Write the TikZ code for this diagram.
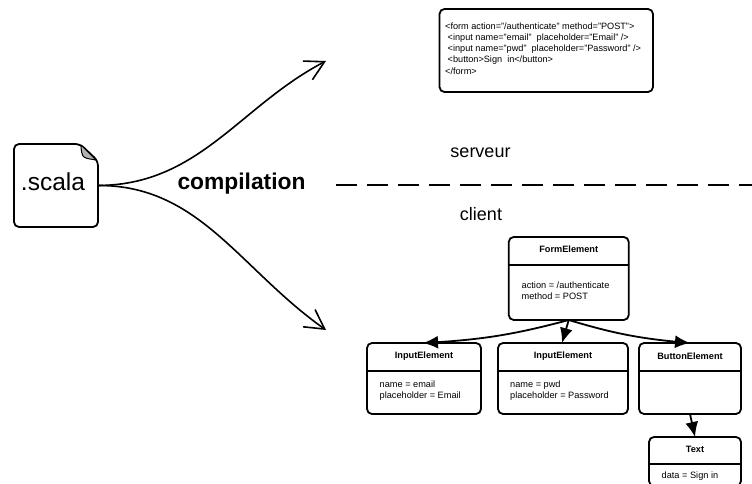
\documentclass[tikz,border=0pt]{standalone}
\usepackage{fontspec}
\setmainfont{Liberation Sans}
\usetikzlibrary{arrows.meta,bending}

\begin{document}
\begin{tikzpicture}[
x=1pt,y=-1pt,
line cap=round,
classbox/.style={
  draw,
  line width=1.8pt,
  rounded corners=5pt,
  outer sep=0pt,
  fill=white
  },
classtitle/.style={
  font=\fontsize{9.2}{11}\selectfont\bfseries,
  inner sep=0pt
  },
classbody/.style={
  font=\fontsize{9.2}{11}\selectfont,
  align=left,
  inner sep=0pt
  },
bigarrow/.style={
  line width=1.6pt,
  -{Straight Barb[length=19pt,width=21pt,line width=1.6pt,flex=0]}
  },
smallarrow/.style={
  line width=1.8pt,
  -{Latex[length=15pt,width=13pt,flex=0]}
  }
]
\useasboundingbox (0,0) rectangle (752,484);
% source file
\node[outer sep=0pt,minimum width=84pt,minimum height=83pt] (scala) at (56,185.5) {};
\draw[line width=1.8pt,rounded corners=5pt]
  (scala.south west) -- (scala.north west) -- (80,144) -- (98,161) -- (scala.south east) -- cycle;
\draw[line width=1pt,fill=black!30,line join=round]
  (81,145) .. controls (81,150) and (82,156) .. (84,157) .. controls (87,159) and (91,159) .. (96,160) -- cycle;
\node[font=\fontsize{24.5}{24}\selectfont,inner sep=0pt] (ext) at (53,182) {.scala};
\node[font=\fontsize{22.8}{24}\selectfont\bfseries,inner sep=0pt] (compil) at (241.5,183.5) {compilation};
\node[font=\fontsize{18}{20}\selectfont,inner sep=0pt] (serveur) at (480.5,153) {serveur};
\node[font=\fontsize{18}{20}\selectfont,inner sep=0pt] (client) at (481,214.5) {client};
% server side and client side
\coordinate (sepstart) at (336,185);
\coordinate (sepend) at (752,185);
\draw[line width=1.8pt,line cap=butt,dash pattern=on 21pt off 10pt] (sepstart) -- (sepend);
\node[classbox,minimum width=213.5pt,minimum height=83pt] (html) at (546.25,50.5) {};
\node[font=\fontsize{9.15}{11.2}\selectfont,align=left,inner sep=0pt,anchor=north west] (htmlcode) at (445,22.5)
  {<form action="/authenticate" method="POST">\\
  \ <input name="email"\ \ placeholder="Email" />\\
  \ <input name="pwd"\ \ placeholder="Password" />\\
  \ <button>Sign\ \ in</button>\\
  </form>};
% class boxes
\foreach \Name/\Xc/\Yc/\Wd/\Ht/\Yline in {
  form/568.75/278.5/120/83/265,
  inputa/424/378.5/114/71/371,
  inputb/563/378.5/130/71/371,
  button/690/378.5/102/71/371,
  text/695/461.5/92/49/464}
{
  \node[classbox,minimum width=\Wd pt,minimum height=\Ht pt] (\Name) at (\Xc,\Yc) {};
  \coordinate (\Name line) at (\Xc,\Yline);
  \draw[line width=1.4pt] (\Name.west |- \Name line) -- (\Name.east |- \Name line);
}
\node[classtitle] (formtitle) at (568.75,249.5) {FormElement};
\node[classtitle] (inputatitle) at (424,356) {InputElement};
\node[classtitle] (inputbtitle) at (563,356) {InputElement};
\node[classtitle] (buttontitle) at (690,356) {ButtonElement};
\node[classtitle] (texttitle) at (695,449) {Text};
\node[classbody,anchor=north west] (formbody) at (521.5,281.5) {action = /authenticate\\method = POST};
\node[classbody,anchor=north west] (inputabody) at (379.5,381) {name = email\\placeholder = Email};
\node[classbody,anchor=north west] (inputbbody) at (510,381) {name = pwd\\placeholder = Password};
\node[classbody,anchor=north west] (textbody) at (661.5,471.5) {data = Sign in};
% connectors
\coordinate (outtop) at (326,61);
\coordinate (outbottom) at (326,330);
\draw[bigarrow] (scala.east) .. controls (200,185) and (240,105) .. (outtop);
\draw[bigarrow] (scala.east) .. controls (200,185) and (240,270) .. (outbottom);
\path[smallarrow]
  (form.south) edge[bend left=6] ([xshift=-1pt]inputa.north)
  (form.south) edge ([xshift=-1pt]inputb.north)
  (form.south) edge[bend right=6] (button.north)
  (button.south) edge (text.north);
\end{tikzpicture}
\end{document}
